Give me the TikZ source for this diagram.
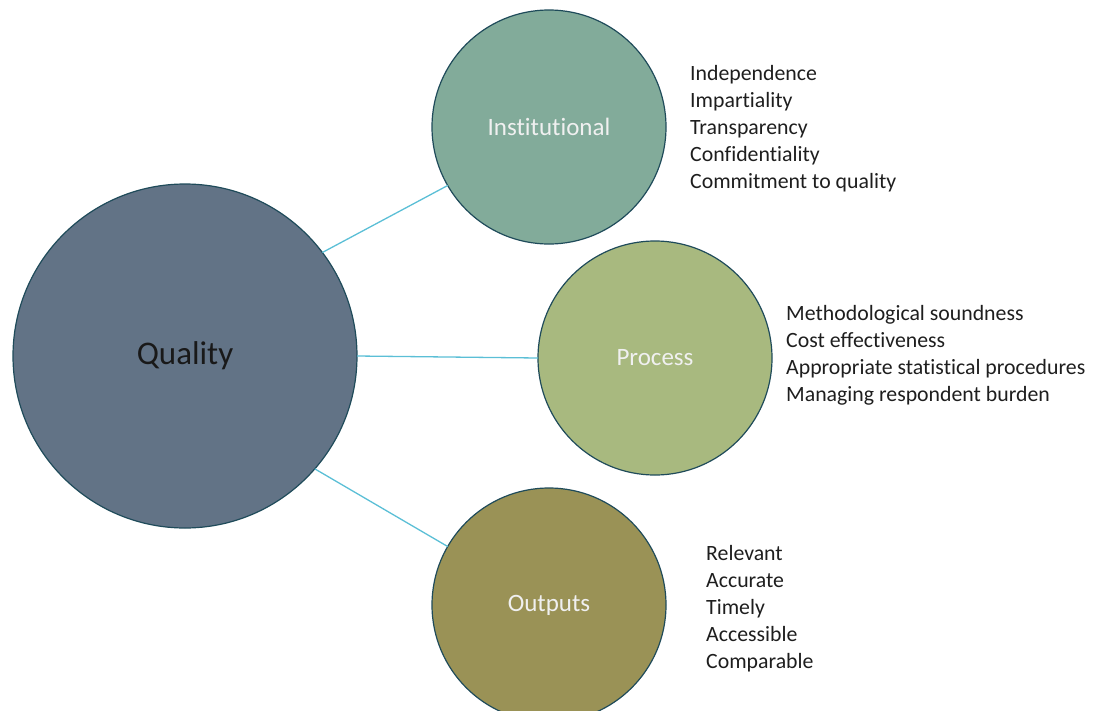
\documentclass[tikz,border=0pt]{standalone}
\usepackage{fontspec}
\setmainfont{Carlito}[Ligatures=NoCommon]
\definecolor{qualfill}{HTML}{627386}
\definecolor{instfill}{HTML}{82AB9A}
\definecolor{procfill}{HTML}{A8B97F}
\definecolor{outfill}{HTML}{9A9256}
\definecolor{rim}{HTML}{1F4B5A}
\definecolor{link}{HTML}{5BBFD6}
\definecolor{listtext}{HTML}{1E1E1E}
\tikzset{
  bubble/.style={circle, draw=rim, line width=1.2pt, inner sep=0pt, outer sep=0pt},
  biglabel/.style={font=\fontsize{33}{40}\selectfont, text=black!90},
  midlabel/.style={font=\fontsize{25}{30}\selectfont, text=white!94!black},
  itemlist/.style={anchor=west, align=left, inner sep=0pt, text=listtext, font=\fontsize{21.8}{27}\selectfont},
  connector/.style={draw=link, line width=1.3pt}
}
\begin{document}
\begin{tikzpicture}[x=1pt,y=-1pt]
\useasboundingbox (0,0) rectangle (1093,710);
\begin{scope}
\clip (0,0) rectangle (1093,710);
\node[bubble, fill=qualfill, minimum size=344pt, biglabel] (quality) at (185,356) {Quality};
\node[bubble, fill=instfill, minimum size=234pt, midlabel] (inst) at (549,127) {Institutional};
\node[bubble, fill=procfill, minimum size=234pt, midlabel] (proc) at (655,358) {Process};
\node[bubble, fill=outfill, minimum size=234pt, midlabel] (outp) at (549,605) {Outputs};
\end{scope}
\draw[connector] (quality.37) -- (inst.210);
\draw[connector] (quality.0) -- (proc.180);
\draw[connector] (quality.-41.7) -- (outp.150.5);
\node[itemlist] (instlist) at (690,129) {Independence\\Impartiality\\Transparency\\Confidentiality\\Commitment to quality};
\node[itemlist] (proclist) at (786,355.5) {Methodological soundness\\Cost effectiveness\\Appropriate statistical procedures\\Managing respondent burden};
\node[itemlist] (outlist) at (706,609) {Relevant\\Accurate\\Timely\\Accessible\\Comparable};
\end{tikzpicture}
\end{document}
